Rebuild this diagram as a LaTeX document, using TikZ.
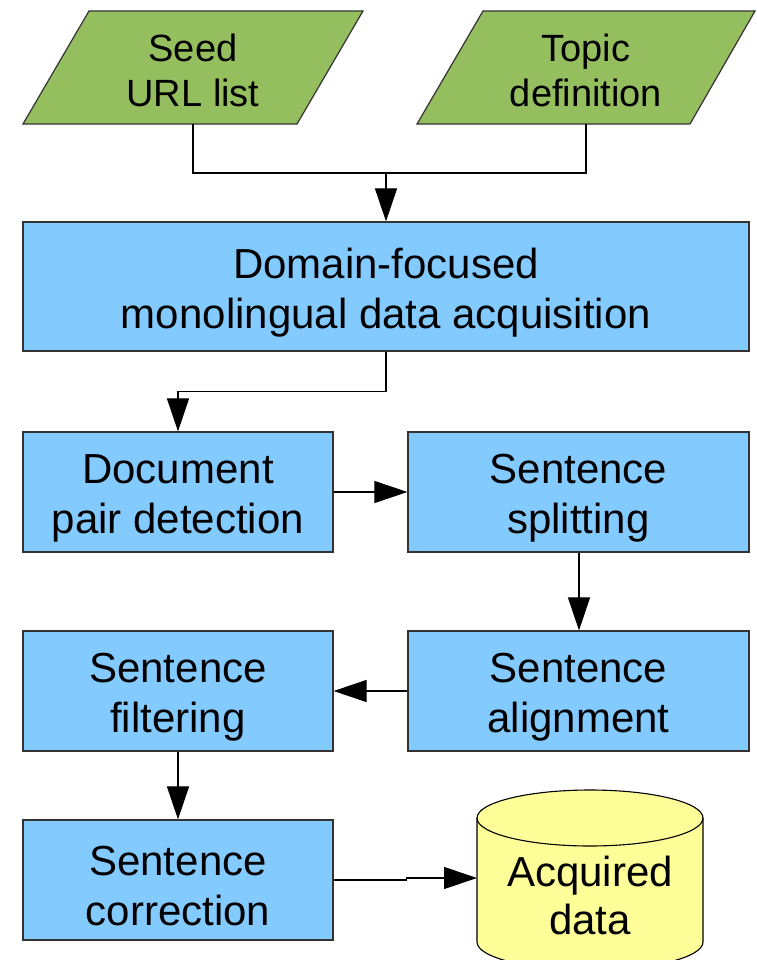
\documentclass[tikz,border=0pt]{standalone}
\usepackage{fontspec}
\setmainfont{Liberation Sans}
\usetikzlibrary{arrows.meta}
\definecolor{pgreen}{HTML}{95BE5F}
\definecolor{pblue}{HTML}{83CAFF}
\definecolor{pyellow}{HTML}{FFFF99}
\definecolor{pborder}{HTML}{333333}
\tikzset{
  proctext/.style={align=center, font=\fontsize{42}{50}\selectfont, inner sep=0pt, yshift=-6pt},
  procbox/.style={draw=pborder, line width=1.2pt, fill=pblue, inner sep=0pt,
    label={[proctext]center:#1}},
  intext/.style={align=center, font=\fontsize{38}{45}\selectfont, inner sep=0pt, yshift=-3pt},
  inbox/.style={inner sep=0pt, label={[intext]center:#1}},
  inshape/.style={draw=pborder, line width=1.2pt, fill=pgreen},
  conn/.style={draw=black, line width=1.1pt, -{Triangle[length=33pt,width=22pt]}},
  plainconn/.style={draw=black, line width=1.1pt},
}
\begin{document}
\begin{tikzpicture}[x=1pt,y=1pt]
\useasboundingbox (0,0) rectangle (756,-960);
% input parallelograms
\path[inshape] (23,-124) -- (297,-124) -- (363,-11) -- (89,-11) -- cycle;
\path[inshape] (417,-124) -- (690,-124) -- (755,-11) -- (483,-11) -- cycle;
\node[inbox={Seed\\URL list}, minimum width=340pt, minimum height=113pt] (seed) at (193,-67.5) {};
\node[inbox={Topic\\definition}, minimum width=338pt, minimum height=113pt] (topic) at (586,-67.5) {};
% process boxes
\node[procbox={Domain-focused\\monolingual data acquisition}, minimum width=726pt, minimum height=129pt] (dom) at (386,-286.5) {};
\node[procbox={Document\\pair detection}, minimum width=310pt, minimum height=120pt] (doc) at (178,-492) {};
\node[procbox={Sentence\\splitting}, minimum width=341pt, minimum height=120pt] (split) at (578.5,-492) {};
\node[procbox={Sentence\\alignment}, minimum width=341pt, minimum height=120pt] (align) at (578.5,-691) {};
\node[procbox={Sentence\\filtering}, minimum width=310pt, minimum height=120pt] (filt) at (178,-691) {};
\node[procbox={Sentence\\correction}, minimum width=310pt, minimum height=120pt] (corr) at (178,-880) {};
% cylinder
\path[draw=black, line width=1.1pt, fill=pyellow] (477,-818) -- (477,-942)
  arc[start angle=180, end angle=360, x radius=113, y radius=28] -- (703,-818)
  arc[start angle=0, end angle=180, x radius=113, y radius=28] -- cycle;
\draw[line width=1.1pt] (477,-818) arc[start angle=180, end angle=360, x radius=113, y radius=28];
\node[align=center, font=\fontsize{42}{48}\selectfont, inner sep=0pt] (data) at (590,-895) {Acquired\\data};
\coordinate (datain) at (477,-878);
% connectors
\coordinate (join) at (386,-173);
\draw[plainconn] (seed.south) |- (join);
\draw[plainconn] (topic.south) |- (join);
\draw[conn] (join) -- (dom.north);
\draw[conn] (dom.south) -- ++(0,-40) -| (doc.north);
\draw[conn] (doc.east) -- (split.west);
\draw[conn] (split.south -| 579,0) -- (align.north -| 579,0);
\draw[conn] (align.west) -- (filt.east);
\draw[conn] (filt.south) -- (corr.north);
\draw[conn] (corr.east) -- ++(73,0) |- (datain);
\end{tikzpicture}
\end{document}
